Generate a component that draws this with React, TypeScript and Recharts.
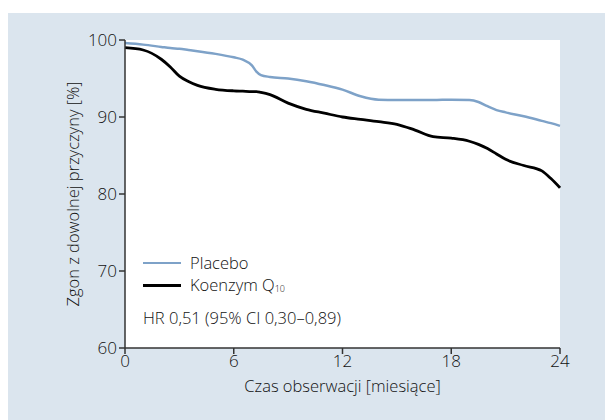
import { CartesianGrid, Label, Line, LineChart, XAxis, YAxis } from "recharts";

const months = [
  0, 1, 2, 2.5, 3, 3.5, 4, 5, 6, 6.5, 7, 7.25, 7.5, 8, 9, 10, 11, 12, 13, 14, 15, 16, 17, 18, 19,
  19.5, 20, 20.5, 21, 22, 23, 23.5, 24,
];
const placebo = [
  99.6, 99.4, 99.1, 98.95, 98.85, 98.7, 98.55, 98.2, 97.75, 97.45, 96.7, 95.9, 95.45, 95.2, 95.0,
  94.65, 94.15, 93.55, 92.7, 92.25, 92.2, 92.2, 92.2, 92.25, 92.2, 91.95, 91.4, 90.9, 90.6, 90.1,
  89.5, 89.2, 88.85,
];
const coq10 = [
  99.0, 98.7, 97.5, 96.5, 95.3, 94.6, 94.1, 93.6, 93.4, 93.35, 93.3, 93.3, 93.2, 92.9, 91.8, 91.0,
  90.5, 90.0, 89.7, 89.4, 89.05, 88.3, 87.45, 87.25, 86.85, 86.45, 85.9, 85.2, 84.5, 83.7, 83.0,
  82.0, 80.8,
];
const xTicks = [0, 6, 12, 18, 24];
const yTicks = [60, 70, 80, 90, 100];

const data = months.map((m, i) => ({ m, placebo: placebo[i], coq10: coq10[i] }));

const FONT = "'Open Sans', 'Noto Sans', sans-serif";
const WEIGHT = 300;
const BLUE = "#7ea2c8";
const AXIS = "#333333";
const TEXT = "#111111";

const LegendBox = () => (
  <div
    style={{
      position: "absolute",
      left: 135,
      top: 239,
      fontFamily: FONT,
      fontWeight: WEIGHT,
      fontSize: 16.5,
      color: TEXT,
      lineHeight: "22px",
      whiteSpace: "nowrap",
    }}
  >
    <div style={{ display: "flex", alignItems: "center" }}>
      <span style={{ width: 38, height: 0, borderTop: `2.5px solid ${BLUE}`, marginRight: 9 }} />
      Placebo
    </div>
    <div style={{ display: "flex", alignItems: "center" }}>
      <span style={{ width: 38, height: 0, borderTop: "3px solid #000", marginRight: 9 }} />
      Koenzym Q<span style={{ fontSize: 9, position: "relative", top: 4 }}>10</span>
    </div>
    <div style={{ marginTop: 11 }}>HR 0,51 (95% CI 0,30–0,89)</div>
  </div>
);

const YLabel = ({ viewBox }: any) => {
  const cx = viewBox.x + 7;
  const cy = viewBox.y + viewBox.height / 2;
  return (
    <text
      x={cx}
      y={cy}
      transform={`rotate(-90 ${cx} ${cy})`}
      textAnchor="middle"
      dominantBaseline="central"
      fill={TEXT}
      style={{ fontFamily: FONT, fontWeight: WEIGHT, fontSize: 16.5 }}
    >
      Zgon z dowolnej przyczyny [%]
    </text>
  );
};

export default function App() {
  return (
    <div style={{ position: "absolute", left: 0, top: 0, width: 605, height: 420, background: "#fff" }}>
      <div style={{ position: "absolute", left: 8, top: 13, width: 597, height: 407, background: "#dbe5ee" }}>
        <LineChart
          width={597}
          height={407}
          data={data}
          margin={{ top: 27, right: 45, left: 57, bottom: 27 }}
        >
          <CartesianGrid fill="#ffffff" stroke="none" vertical={false} horizontal={false} />
          <XAxis
            dataKey="m"
            type="number"
            domain={[0, 24]}
            ticks={xTicks}
            height={45}
            tickSize={6}
            tickMargin={1}
            stroke={AXIS}
            strokeWidth={1.5}
            tick={{ fill: TEXT, fontSize: 17, fontFamily: FONT, fontWeight: WEIGHT }}
          >
            <Label
              value="Czas obserwacji [miesiące]"
              position="insideBottom"
              offset={1}
              style={{ fill: TEXT, fontSize: 16.5, fontFamily: FONT, fontWeight: WEIGHT }}
            />
          </XAxis>
          <YAxis
            type="number"
            domain={[60, 100]}
            ticks={yTicks}
            width={60}
            tickSize={6}
            tickMargin={2}
            stroke={AXIS}
            strokeWidth={1.5}
            tick={{ fill: TEXT, fontSize: 17, fontFamily: FONT, fontWeight: WEIGHT }}
          >
            <Label content={<YLabel />} />
          </YAxis>
          <Line
            type="monotone"
            dataKey="placebo"
            stroke={BLUE}
            strokeWidth={2.5}
            dot={false}
            isAnimationActive={false}
          />
          <Line
            type="monotone"
            dataKey="coq10"
            stroke="#000"
            strokeWidth={2.8}
            dot={false}
            isAnimationActive={false}
          />
        </LineChart>
        <LegendBox />
      </div>
    </div>
  );
}
